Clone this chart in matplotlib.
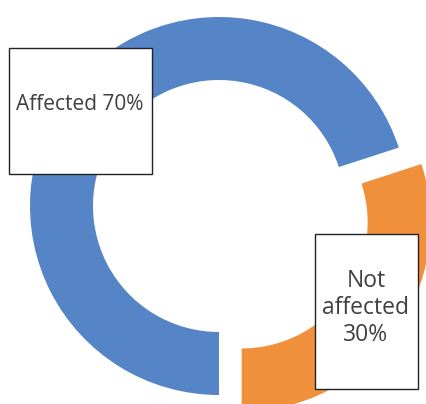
"""Donut chart: share of affected vs not affected."""

import matplotlib

matplotlib.use("Agg")

import matplotlib.pyplot as plt
from matplotlib.patches import Rectangle

labels = ["Affected 70%", "Not\naffected\n30%"]
values = [70, 30]
colors = ["#5585C6", "#F0903A"]

W, H = 427, 404


def up(y):
    """Convert a top-origin pixel row to axes y."""
    return H - y


fig = plt.figure(figsize=(W / 100, H / 100), dpi=100)
fig.patch.set_facecolor("white")
ax = fig.add_axes([0, 0, 1, 1])

radius = 189
ax.pie(
    values,
    colors=colors,
    center=(219, up(206)),
    radius=radius,
    startangle=-90,
    counterclock=False,
    explode=[0, 28],
    wedgeprops={"width": 63, "linewidth": 0},
    frame=True,
)
ax.set_xlim(0, W)
ax.set_ylim(0, H)
ax.set_aspect("equal")
ax.axis("off")

text_kw = dict(
    color="#404040",
    family=["Open Sans", "DejaVu Sans"],
    ha="center",
    va="center",
    zorder=5,
)

# label boxes
ax.add_patch(Rectangle((9, up(174)), 143, 126, facecolor="white",
                       edgecolor="#222222", linewidth=1.0, zorder=4))
ax.text(80, up(105), labels[0], fontsize=15, **text_kw)

ax.add_patch(Rectangle((315, up(389)), 103, 155, facecolor="white",
                       edgecolor="#222222", linewidth=1.0, zorder=4))
ax.text(366, up(308), labels[1], fontsize=16.5, linespacing=1.18, **text_kw)

fig.savefig("out.png", dpi=100)
